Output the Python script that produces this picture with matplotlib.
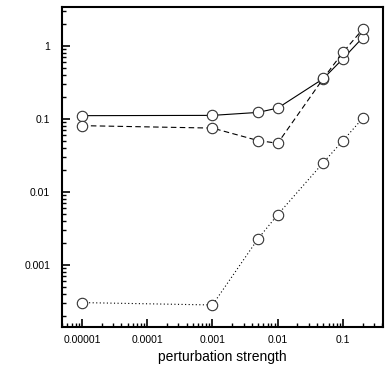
import numpy as np
import matplotlib
matplotlib.use("Agg")
from matplotlib import pyplot as plt
from matplotlib import ticker

plt.rcParams['font.family'] = ['Liberation Sans', 'DejaVu Sans']

strength = [0.00001, 0.001, 0.005, 0.01, 0.05, 0.1, 0.2]
solid_vals = [0.111, 0.112, 0.123, 0.141, 0.357, 0.67, 1.30]
dashed_vals = [0.081, 0.075, 0.0506, 0.0465, 0.36, 0.82, 1.69]
dotted_vals = [0.000305, 0.000283, 0.00229, 0.00489, 0.0253, 0.0506, 0.102]

x_ticks = [0.00001, 0.0001, 0.001, 0.01, 0.1]
x_labels = ['0.00001', '0.0001', '0.001', '0.01', '0.1']
y_ticks = [0.001, 0.01, 0.1, 1]
y_labels = ['0.001', '0.01', '0.1', '1']

fig = plt.figure(figsize=(3.9, 3.9), dpi=100)
ax = fig.add_axes([62/390, 63/390, 321/390, 320/390])

mk = dict(marker='o', markersize=7.5, markerfacecolor='white',
          markeredgecolor='#333333', markeredgewidth=0.8, color='black', lw=0.8)
ax.plot(strength, solid_vals, ls='-', **mk)
ax.plot(strength, dashed_vals, ls=(0, (5, 3)), **mk)
ax.plot(strength, dotted_vals, ls=(0, (1, 2.2)), **mk)

ax.set_xscale('log')
ax.set_yscale('log')
ax.set_xlim(10**-5.306, 10**-0.387)
ax.set_ylim(10**-3.85, 10**0.534)

ax.xaxis.set_major_locator(ticker.FixedLocator(x_ticks))
ax.xaxis.set_major_formatter(ticker.FixedFormatter(x_labels))
ax.yaxis.set_major_locator(ticker.FixedLocator(y_ticks))
ax.yaxis.set_major_formatter(ticker.FixedFormatter(y_labels))
ax.xaxis.set_minor_locator(ticker.LogLocator(base=10, subs=np.arange(2, 10)))
ax.yaxis.set_minor_locator(ticker.LogLocator(base=10, subs=np.arange(2, 10)))
ax.xaxis.set_minor_formatter(ticker.NullFormatter())
ax.yaxis.set_minor_formatter(ticker.NullFormatter())

ax.tick_params(which='major', direction='in', length=6, width=1.2, labelsize=7.5)
ax.tick_params(axis='x', which='major', pad=6)
ax.tick_params(axis='y', which='major', pad=8.5)
ax.tick_params(which='minor', direction='in', length=3, width=1)
for s in ax.spines.values():
    s.set_linewidth(1.5)

ax.set_xlabel('perturbation strength', fontsize=10, labelpad=3)

fig.savefig('out.png', dpi=100)
